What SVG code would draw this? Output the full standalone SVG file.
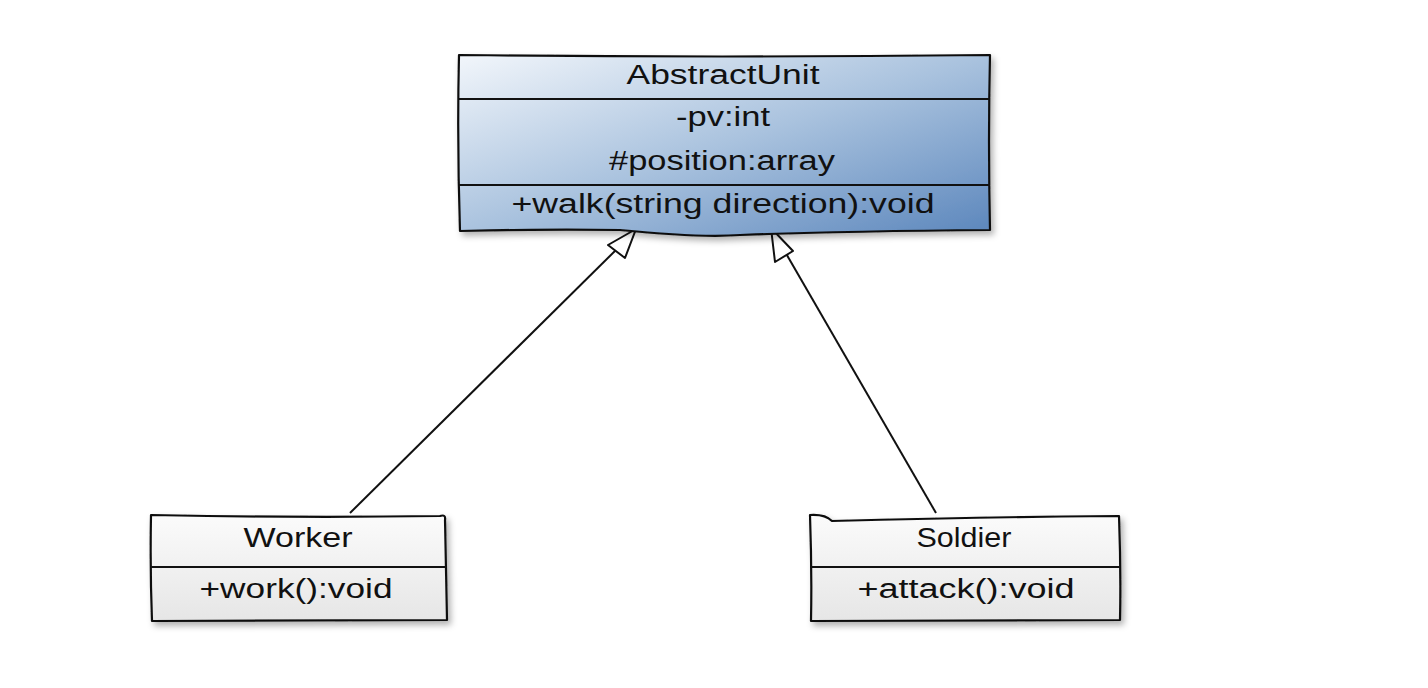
<svg xmlns="http://www.w3.org/2000/svg" width="1428" height="688" viewBox="0 0 1428 688">
<style>
.box{stroke:#111;stroke-width:2.2;stroke-linejoin:round}
.div{stroke:#111;stroke-width:2;fill:none}
.t{font-family:"Liberation Sans",Arial,sans-serif;font-size:27px;fill:#111;text-anchor:middle}
.conn{stroke:#111;stroke-width:2;fill:none}
.head{fill:#fff;stroke:#111;stroke-width:2;stroke-linejoin:round}
</style>
<defs>
<linearGradient id="blue" x1="0" y1="0" x2="1" y2="1">
<stop offset="0" stop-color="#f2f6fb"/>
<stop offset="0.5" stop-color="#a9c2de"/>
<stop offset="1" stop-color="#5b86bc"/>
</linearGradient>
<linearGradient id="grey" x1="0" y1="0" x2="0" y2="1">
<stop offset="0" stop-color="#fbfbfb"/>
<stop offset="1" stop-color="#e6e6e6"/>
</linearGradient>
<filter id="sh" x="-10%" y="-10%" width="120%" height="130%">
<feDropShadow dx="3" dy="4" stdDeviation="3" flood-color="#000" flood-opacity="0.3"/>
</filter>
</defs>
<rect width="1428" height="688" fill="#fff"/>
<g id="connectors">
<path class="conn" d="M350 513 L620 246"/>
<polygon class="head" points="636,229 608,245 625,258"/>
<path class="conn" d="M936 513 L784 250"/>
<polygon class="head" points="771,228 775,262 793,251"/>
</g>
<g id="AbstractUnit">
<path class="box" filter="url(#sh)" fill="url(#blue)" d="M459 55 Q720 58 990 55 Q988 140 990 230 Q850 231 740 235 Q700 238 620 230 Q540 229 460 231 Q457 140 459 55 Z"/>
<path class="div" d="M459 99 L990 99"/>
<path class="div" d="M459 185 L990 185"/>
<text class="t" x="723" y="84" textLength="193" lengthAdjust="spacingAndGlyphs">AbstractUnit</text>
<text class="t" x="723" y="126" textLength="94" lengthAdjust="spacingAndGlyphs">-pv:int</text>
<text class="t" x="722" y="170" textLength="226" lengthAdjust="spacingAndGlyphs">#position:array</text>
<text class="t" x="723" y="213" textLength="423" lengthAdjust="spacingAndGlyphs">+walk(string direction):void</text>
</g>
<g id="Worker">
<path class="box" filter="url(#sh)" fill="url(#grey)" d="M151 515 Q300 518 440 516 Q446 514 445 520 Q446 570 447 620 L152 621 Q150 570 151 515 Z"/>
<path class="div" d="M151 567 L446 567"/>
<text class="t" x="298" y="547" textLength="109" lengthAdjust="spacingAndGlyphs">Worker</text>
<text class="t" x="296" y="598" textLength="193" lengthAdjust="spacingAndGlyphs">+work():void</text>
</g>
<g id="Soldier">
<path class="box" filter="url(#sh)" fill="url(#grey)" d="M810 515 Q825 514 832 521 Q980 517 1119 516 Q1121 570 1120 620 L811 621 Q812 570 810 515 Z"/>
<path class="div" d="M810 567 L1120 567"/>
<text class="t" x="964" y="547" textLength="95" lengthAdjust="spacingAndGlyphs">Soldier</text>
<text class="t" x="966" y="598" textLength="217" lengthAdjust="spacingAndGlyphs">+attack():void</text>
</g>
</svg>
